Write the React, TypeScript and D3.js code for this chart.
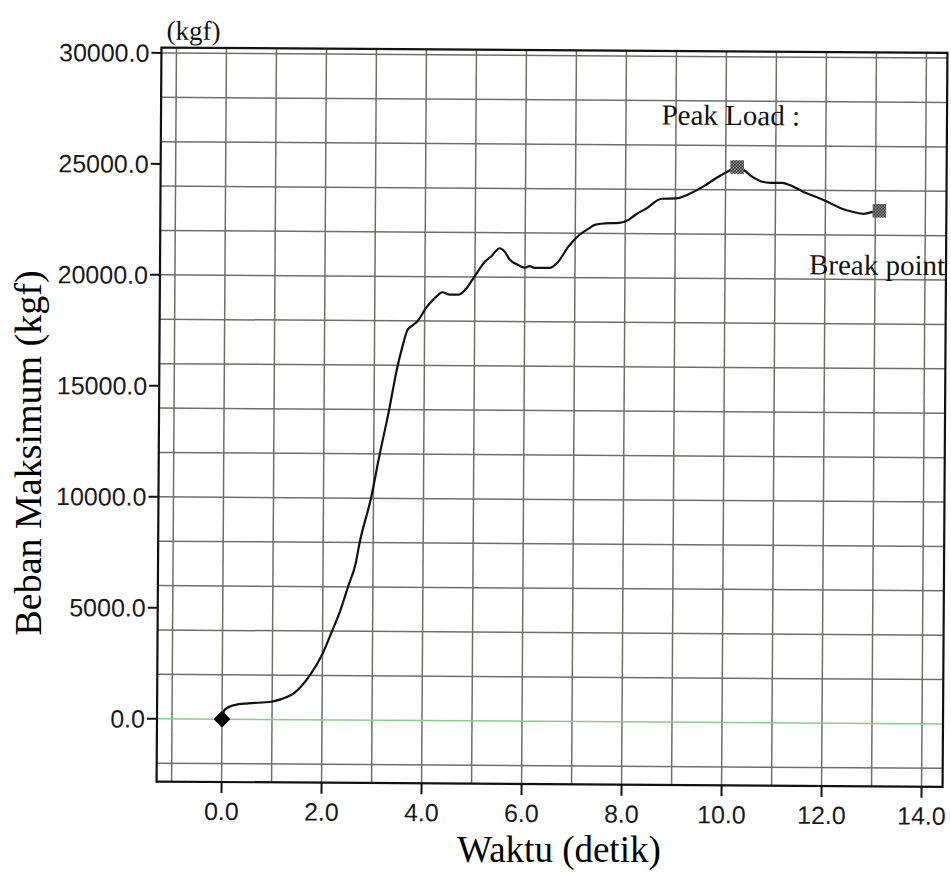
import React from 'react';
import * as d3 from 'd3';

// Tensile test record: load (kgf) against time (s)
const timeSeconds = [
  0.0, 0.05, 0.25, 0.52, 0.98, 1.18, 1.45, 1.75, 2.0, 2.18, 2.35, 2.51, 2.65, 2.73,
  2.95, 3.12, 3.29, 3.45, 3.56, 3.66, 3.76, 3.86, 4.03, 4.23, 4.35, 4.5, 4.68, 4.82,
  5.0, 5.2, 5.33, 5.49, 5.59, 5.69, 5.86, 5.99, 6.09, 6.19, 6.49, 6.66, 6.86, 7.07,
  7.26, 7.39, 7.59, 7.88, 8.05, 8.2, 8.43, 8.72, 9.02, 9.25, 9.56, 9.83, 10.07, 10.23,
  10.37, 10.53, 10.7, 10.9, 11.13, 11.3, 11.56, 11.82, 12.08, 12.32, 12.56, 12.76,
  12.93, 13.08,
];
const loadKgf = [
  0, 420, 640, 720, 800, 920, 1220, 2000, 2970, 3950, 4920, 6050, 7030, 8000,
  10000, 12000, 13850, 15800, 16850, 17600, 17800, 18000, 18600, 19100, 19300, 19200, 19200, 19450,
  20050, 20700, 20950, 21300, 21150, 20800, 20550, 20430, 20500, 20430, 20430, 20700, 21380, 21900,
  22200, 22380, 22450, 22480, 22600, 22850, 23150, 23580, 23600, 23780, 24150, 24550, 24860, 25030,
  24890, 24600, 24400, 24330, 24330, 24220, 23930, 23700, 23450, 23190, 23040, 22960,
  23040, 23100,
];

// Start, peak-load and break-point markers
const startTime = 0.0;
const startLoad = 0;
const peakTime = 10.23;
const peakLoad = 25030;
const breakTime = 13.08;
const breakLoad = 23100;

const xTickValues = [0, 2, 4, 6, 8, 10, 12, 14];
const yTickValues = [0, 5000, 10000, 15000, 20000, 25000, 30000];
const xGridValues = d3.range(-1, 15, 1);
const yGridValues = d3.range(-2000, 30001, 2000);

const W = 951;
const H = 873;

export default function App() {
  const x = d3.scaleLinear().domain([-1.3, 14.42]).range([157, 943]);
  const y = d3.scaleLinear().domain([-2830, 30240]).range([782, 48]);
  const [x0, x1] = x.range();
  const [y0, y1] = y.range();

  const data = timeSeconds.map((t, i) => [t, loadKgf[i]] as [number, number]);
  const line = d3
    .line<[number, number]>()
    .x((d) => x(d[0]))
    .y((d) => y(d[1]))
    .curve(d3.curveMonotoneX);

  const square = d3.symbol(d3.symbolSquare, 185)();
  const diamond = d3.symbol(d3.symbolSquare, 90)();

  const tickFont = "'Liberation Sans', Arial, sans-serif";
  const serif = "'Liberation Serif', 'Times New Roman', serif";

  return (
    <svg
      width={W}
      height={H}
      style={{ position: 'absolute', left: 0, top: 0, background: '#fff' }}
    >
      <defs>
        <pattern id="checker" width={3} height={3} patternUnits="userSpaceOnUse">
          <rect width={3} height={3} fill="#bdbdbd" />
          <rect width={1.6} height={1.6} fill="#111" />
          <rect x={1.5} y={1.5} width={1.5} height={1.5} fill="#111" />
        </pattern>
        <clipPath id="plotClip">
          <rect x={x0} y={y1} width={x1 - x0 + 1} height={y0 - y1} />
        </clipPath>
      </defs>

      <g transform={`rotate(0.38, ${x(0)}, ${y(0)})`}>
        {/* grid */}
        {xGridValues.map((t) => (
          <line
            key={`gx${t}`}
            x1={x(t)}
            x2={x(t)}
            y1={y1}
            y2={y0}
            stroke="#6f6f6a"
            strokeWidth={1.5}
          />
        ))}
        {yGridValues.map((v) => (
          <line
            key={`gy${v}`}
            x1={x0}
            x2={x1}
            y1={y(v)}
            y2={y(v)}
            stroke={v === 0 ? '#8dcb8d' : '#6f6f6a'}
            strokeWidth={1.5}
          />
        ))}

        {/* frame */}
        <rect
          x={x0}
          y={y1}
          width={x1 - x0}
          height={y0 - y1}
          fill="none"
          stroke="#111"
          strokeWidth={2.2}
        />

        {/* y axis */}
        {yTickValues.map((v) => (
          <g key={`ty${v}`}>
            <line x1={x0 - 10} x2={x0} y1={y(v)} y2={y(v)} stroke="#111" strokeWidth={2} />
            <text
              x={x0 - 12}
              y={y(v) + 9}
              textAnchor="end"
              fontFamily={tickFont}
              fontSize={25}
              fill="#1a1a1a"
            >
              {v.toFixed(1)}
            </text>
          </g>
        ))}

        {/* x axis */}
        {xTickValues.map((t) => (
          <g key={`tx${t}`}>
            <line x1={x(t)} x2={x(t)} y1={y0} y2={y0 + 11} stroke="#111" strokeWidth={2} />
            <text
              x={x(t)}
              y={y0 + 38}
              textAnchor="middle"
              fontFamily={tickFont}
              fontSize={25}
              fill="#1a1a1a"
            >
              {t.toFixed(1)}
            </text>
          </g>
        ))}

        <text x={x0 + 5} y={y1 - 8} fontFamily={serif} fontSize={27} fill="#111">
          (kgf)
        </text>

        <g clipPath="url(#plotClip)">
          <path d={line(data) || ''} fill="none" stroke="#111" strokeWidth={2.2} strokeLinejoin="round" />

          <path
            d={diamond}
            transform={`translate(${x(startTime)}, ${y(startLoad)}) rotate(45)`}
            fill="#000"
            stroke="#000"
            strokeWidth={2.5}
            strokeLinejoin="round"
          />
          <path
            d={square}
            transform={`translate(${x(peakTime)}, ${y(peakLoad)})`}
            fill="url(#checker)"
          />
          <path
            d={square}
            transform={`translate(${x(breakTime)}, ${y(breakLoad)})`}
            fill="url(#checker)"
          />

          <text
            x={x(peakTime) - 76}
            y={y(peakLoad) - 42}
            fontFamily={serif}
            fontSize={29}
            fill="#111"
          >
            Peak Load :
          </text>
          <text
            x={x(breakTime) - 70}
            y={y(breakLoad) + 64}
            fontFamily={serif}
            fontSize={29}
            fill="#111"
          >
            Break point
          </text>
        </g>
      </g>

      {/* axis titles */}
      <text
        transform={`translate(41, 453) rotate(-90)`}
        textAnchor="middle"
        fontFamily={serif}
        fontSize={38}
        fill="#000"
      >
        Beban Maksimum (kgf)
      </text>
      <text x={559} y={862} textAnchor="middle" fontFamily={serif} fontSize={37} fill="#000">
        Waktu (detik)
      </text>
    </svg>
  );
}
